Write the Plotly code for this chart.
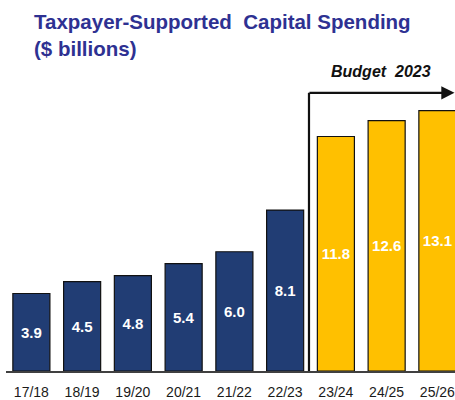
import plotly.graph_objects as go

categories = ["17/18", "18/19", "19/20", "20/21", "21/22", "22/23", "23/24", "24/25", "25/26"]
values = [3.9, 4.5, 4.8, 5.4, 6.0, 8.1, 11.8, 12.6, 13.1]
budget_start = 6  # index of first Budget 2023 year

NAVY = "#213D74"
GOLD = "#FFC000"
colors = [NAVY if i < budget_start else GOLD for i in range(len(categories))]

FONT = "Liberation Sans, Arial, sans-serif"

W, H = 455, 400
L, T, B = 6, 60, 27
plot_h = H - T - B

fig = go.Figure()
fig.add_trace(go.Bar(
    x=categories,
    y=values,
    marker=dict(color=colors, line=dict(color="#111111", width=1.2)),
    texttemplate="<b>%{y:.1f}</b>",
    textposition="inside",
    insidetextanchor="middle",
    textangle=0,
    textfont=dict(family=FONT, size=15, color="white"),
    hoverinfo="skip",
    cliponaxis=False,
))

bracket_x = budget_start - 0.53
bracket_top = 14.0
x_max = len(categories) - 0.653

fig.add_shape(type="line", xref="x", yref="y",
              x0=bracket_x, x1=bracket_x, y0=0, y1=bracket_top,
              line=dict(color="#111111", width=2.2))
fig.add_annotation(xref="x", yref="y", axref="x", ayref="y",
                   x=x_max - 0.01, y=bracket_top,
                   ax=bracket_x - 0.02, ay=bracket_top,
                   showarrow=True, arrowhead=2, arrowsize=1.2, arrowwidth=2.2,
                   arrowcolor="#111111", text="")
fig.add_annotation(xref="x", yref="y",
                   x=6.89, y=15.05,
                   text="<b><i>Budget\u00a0 2023</i></b>", showarrow=False,
                   font=dict(family=FONT, size=16, color="#111111"))

# title as a paper annotation
fig.add_annotation(xref="paper", yref="paper",
                   x=(32 - L) / (W - L), y=(H - B - 8) / plot_h,
                   xanchor="left", yanchor="top", align="left",
                   text="<b>Taxpayer-Supported\u00a0 Capital Spending<br>($ billions)</b>",
                   showarrow=False,
                   font=dict(family=FONT, size=20.5, color="#2E3192"))

fig.update_layout(
    width=W, height=H,
    margin=dict(l=L, r=0, t=T, b=B),
    paper_bgcolor="white", plot_bgcolor="white",
    bargap=0.27,
    showlegend=False,
    xaxis=dict(
        type="category",
        range=[-0.5, x_max],
        showline=True, linecolor="#404040", linewidth=1.5,
        ticks="", showgrid=False, zeroline=False,
        ticklabelstandoff=8,
        tickfont=dict(family=FONT, size=14, color="#1a1a1a"),
        fixedrange=True,
    ),
    yaxis=dict(visible=False, range=[0, plot_h / 20], fixedrange=True),
)

fig.write_html(
    "out.html",
    config={"displayModeBar": False, "staticPlot": True},
    post_script="document.body.style.margin='0';document.body.style.overflow='hidden';",
)
